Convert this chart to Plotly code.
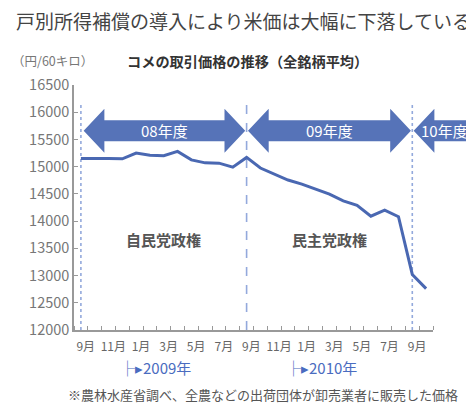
import plotly.graph_objects as go

# ---- data ----
months = ["2008-09", "2008-10", "2008-11", "2008-12", "2009-01", "2009-02", "2009-03",
          "2009-04", "2009-05", "2009-06", "2009-07", "2009-08", "2009-09", "2009-10",
          "2009-11", "2009-12", "2010-01", "2010-02", "2010-03", "2010-04", "2010-05",
          "2010-06", "2010-07", "2010-08", "2010-09", "2010-10"]
price = [15150, 15155, 15150, 15145, 15250, 15210, 15200, 15280, 15125, 15070, 15065,
         14990, 15170, 14975, 14865, 14755, 14680, 14590, 14495, 14370, 14290, 14090,
         14200, 14080, 13020, 12760]
month_tick_idx = [0, 2, 4, 6, 8, 10, 12, 14, 16, 18, 20, 22, 24]
month_tick_text = ["9月", "11月", "1月", "3月", "5月", "7月", "9月", "11月", "1月", "3月", "5月", "7月", "9月"]
y_ticks = [12000, 12500, 13000, 13500, 14000, 14500, 15000, 15500, 16000, 16500]
y_tick_text = [str(v) for v in y_ticks]
fy_labels = ["08年度", "09年度", "10年度"]
fy_start = [0, 12, 24]          # index of fiscal-year start month (September)
fy_end = [12, 24, 29]
year_labels = ["├▸2009年", "├▸2010年"]
year_start = [3.5, 15.5]         # Dec/Jan boundary
regime_labels = ["自民党政権", "民主党政権"]
regime_x = [6, 18]

XR = [-0.5, 25.5]
YR = [12000, 16500]
x = list(range(len(months)))

FONT = "Noto Sans CJK JP"
BLUE = "#5673b8"
LINE = "#4a68b2"
DASH = "#93a9dc"

W, HGT = 466, 398
ML, MR, MT, MB = 66, 41, 77, 76
PW = W - ML - MR


def px(v):
    return (v - XR[0]) / (XR[1] - XR[0])


def py(v):
    return (v - YR[0]) / (YR[1] - YR[0])


fig = go.Figure()
fig.add_trace(go.Scatter(x=x, y=price, mode="lines",
                         line=dict(color=LINE, width=3), hoverinfo="skip"))

# double-headed arrows for fiscal years (drawn below, plot bg transparent)
yc, H, S, h, gap = 15658, 404, 193, 1.5, 0.1
for i, (a, b, lab) in enumerate(zip(fy_start, fy_end, fy_labels)):
    x0 = a + (0.2 if i == 0 else gap)
    x1 = b - gap
    pts = [(x0, yc), (x0 + h, yc + H), (x0 + h, yc + S)]
    if i < 2:
        pts += [(x1 - h, yc + S), (x1 - h, yc + H), (x1, yc), (x1 - h, yc - H), (x1 - h, yc - S)]
    else:
        pts += [(x1, yc + S), (x1, yc - S)]
    pts += [(x0 + h, yc - S), (x0 + h, yc - H)]
    path = "M " + " L ".join(f"{px(p):.5f},{py(q):.5f}" for p, q in pts) + " Z"
    fig.add_shape(type="path", xref="paper", yref="paper", path=path,
                  fillcolor=BLUE, line=dict(width=0), layer="below")
    cx = (x0 + x1) / 2 if i < 2 else 26.33
    fig.add_annotation(xref="paper", yref="paper", x=px(cx), xanchor="center",
                       y=py(yc), yanchor="middle",
                       text=lab, showarrow=False,
                       font=dict(family=FONT, size=15, color="white"))

# vertical fiscal-year separators
for i, s in enumerate(fy_start):
    fig.add_shape(type="line", xref="x", yref="y", x0=s, x1=s, y0=YR[0], y1=16170,
                  line=dict(color=DASH, width=1.6, dash="dash" if i == 1 else "dot"),
                  layer="below")

for lab, xv in zip(regime_labels, regime_x):
    fig.add_annotation(xref="x", yref="y", x=xv, xanchor="center", y=13660, yanchor="middle",
                       text=f"<b>{lab}</b>", showarrow=False,
                       font=dict(family=FONT, size=15, color="#555555"))

for lab, xv in zip(year_labels, year_start):
    fig.add_annotation(xref="paper", yref="paper", x=px(xv) - 11 / PW, xanchor="left",
                       y=-0.155, yanchor="middle",
                       text=lab, showarrow=False,
                       font=dict(family=FONT, size=15, color="#4a6cc0"))

fig.add_annotation(xref="paper", yref="paper", x=-0.178, xanchor="left", y=1.102, yanchor="middle",
                   text="（円/60キロ）", showarrow=False,
                   font=dict(family=FONT, size=12.5, color="#777777"))
fig.add_annotation(xref="paper", yref="paper", x=0.141, xanchor="left", y=1.098, yanchor="middle",
                   text="<b>コメの取引価格の推移（全銘柄平均）</b>", showarrow=False,
                   font=dict(family=FONT, size=14.2, color="#333333"))
fig.add_annotation(xref="paper", yref="paper", x=-0.021, xanchor="left", y=-0.265, yanchor="middle",
                   text="※農林水産省調べ、全農などの出荷団体が卸売業者に販売した価格", showarrow=False,
                   font=dict(family=FONT, size=13, color="#555555"))

fig.update_layout(
    width=W, height=HGT,
    margin=dict(l=ML, r=MR, t=MT, b=MB),
    paper_bgcolor="white", plot_bgcolor="rgba(0,0,0,0)",
    showlegend=False,
    title=dict(text="戸別所得補償の導入により米価は大幅に下落している",
               x=8 / W, xanchor="left", y=1 - 14 / HGT, yanchor="middle",
               font=dict(family=FONT, size=19, color="#444444")),
    xaxis=dict(range=XR, tickmode="array", automargin=False,
               tickvals=[i + 0.35 for i in month_tick_idx], ticktext=month_tick_text,
               ticks="", showgrid=False, zeroline=False,
               showline=True, linecolor="#999999", linewidth=1.5,
               ticklabelstandoff=5,
               tickfont=dict(family=FONT, size=12, color="#666666"),
               minor=dict(ticks="inside", tick0=-0.5, dtick=1, ticklen=4,
                          tickcolor="#999999", tickwidth=1.2, showgrid=False)),
    yaxis=dict(range=YR, tickmode="array", tickvals=y_ticks, ticktext=y_tick_text,
               automargin=False,
               ticks="inside", ticklen=4, tickcolor="#999999", tickwidth=1.2,
               showgrid=False, zeroline=False,
               showline=True, linecolor="#999999", linewidth=1.5,
               tickfont=dict(family=FONT, size=14.5, color="#777777")),
)

fig.write_html("out.html")
